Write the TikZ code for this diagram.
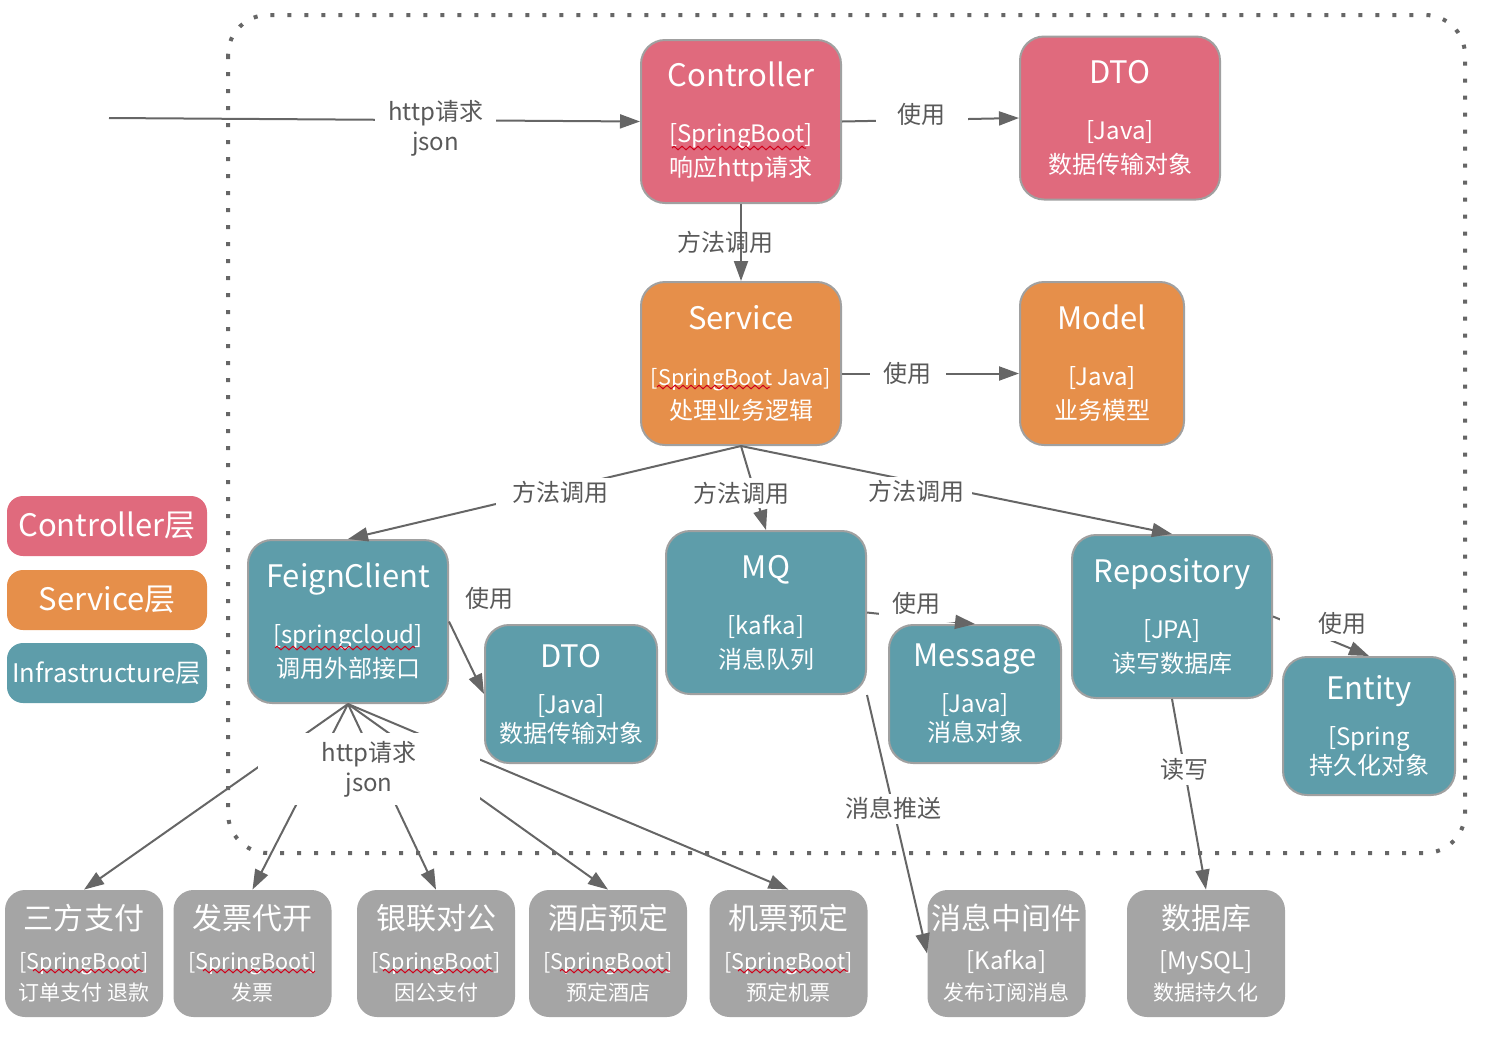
\documentclass[tikz,border=0pt]{standalone}
\usepackage{fontspec}
\setmainfont{Noto Sans CJK SC}
\usetikzlibrary{arrows.meta,decorations.pathmorphing}

\definecolor{ctrlred}{HTML}{E06A7D}
\definecolor{svcorange}{HTML}{E68F4A}
\definecolor{infrateal}{HTML}{5E9DAA}
\definecolor{extgray}{HTML}{A5A5A5}
\definecolor{edgegray}{HTML}{A0A0A0}
\definecolor{linegray}{HTML}{666666}
\definecolor{labelgray}{HTML}{595959}
\definecolor{squig}{HTML}{D0021B}

\newcommand{\ttl}[1]{{\fontsize{15.5}{15.5}\selectfont #1}}
\newcommand{\exttl}[1]{{\fontsize{15}{15}\selectfont #1}}
\newcommand{\extsb}[1]{{\fontsize{10.8}{10.8}\selectfont #1}}
\newcommand{\extsub}[1]{{\fontsize{10.5}{10.5}\selectfont #1}}

\begin{document}
\begin{tikzpicture}[x=0.5pt,y=-0.5pt,
    box/.style={draw=edgegray, line width=1pt, rounded corners=12pt, text=white, align=center, inner sep=0pt},
    bigbox/.style={box, minimum width=100pt, minimum height=81.5pt, font=\fontsize{12}{17}\selectfont},
    smallbox/.style={box, minimum width=86pt, minimum height=69pt, font=\fontsize{12}{14.5}\selectfont},
    extbox/.style={fill=extgray, rounded corners=10pt, text=white, align=center, inner sep=0pt,
      minimum width=79pt, minimum height=63.5pt, font=\fontsize{12}{15.5}\selectfont},
    legendbox/.style={rounded corners=8pt, text=white, inner sep=0pt, minimum width=100pt,
      minimum height=30pt, font=\fontsize{15.5}{15.5}\selectfont},
    arr/.style={draw=linegray, line width=1pt, -{Triangle[length=10pt,width=7pt]}},
    lbl/.style={fill=white, text=labelgray, align=center, inner sep=2pt, font=\fontsize{12}{15}\selectfont},
    squiggle/.style={draw=squig, line width=0.5pt, decorate,
      decoration={zigzag, segment length=4pt, amplitude=0.9pt}}]

    \useasboundingbox (0,0) rectangle (1492,1040);

    % service boundary
    \draw[linegray, line width=2pt, dash pattern=on 2pt off 6.5pt, rounded corners=20pt]
        (228,15) rectangle (1465,853);

    % legend
    \node[legendbox, fill=ctrlred] (lgctrl) at (107,526) {Controller层};
    \node[legendbox, fill=svcorange] (lgsvc) at (107,600) {Service层};
    \node[legendbox, fill=infrateal, font=\fontsize{12.8}{12.8}\selectfont] (lginfra) at (107,673) {Infrastructure层};

    % controller / service layer
    \node[bigbox, fill=ctrlred] (ctrl) at (741,121.5) {\ttl{Controller}\\[11pt]{[}SpringBoot]\\响应http请求};
    \node[bigbox, fill=ctrlred] (dtoa) at (1120,118) {\ttl{DTO}\\[11pt]{[}Java]\\数据传输对象};
    \node[bigbox, fill=svcorange] (svc) at (741,363.5) {\ttl{Service}\\[11pt]\extsb{[SpringBoot Java]}\\处理业务逻辑};
    \node[bigbox, fill=svcorange, minimum width=82pt] (model) at (1102,363.5) {\ttl{Model}\\[11pt]{[}Java]\\业务模型};

    % infrastructure layer
    \node[bigbox, fill=infrateal] (feign) at (348,621.5) {\ttl{FeignClient}\\[11pt]{[}springcloud]\\调用外部接口};
    \node[smallbox, fill=infrateal] (dtob) at (571,694) {\ttl{DTO}\\[8.5pt]{[}Java]\\数据传输对象};
    \node[bigbox, fill=infrateal] (mq) at (766,612.5) {\ttl{MQ}\\[11pt]{[}kafka]\\消息队列};
    \node[smallbox, fill=infrateal] (msg) at (975,694) {\ttl{Message}\\[8.5pt]{[}Java]\\消息对象};
    \node[bigbox, fill=infrateal] (repo) at (1172,616.5) {\ttl{Repository}\\[11pt]{[}JPA]\\读写数据库};
    \node[smallbox, fill=infrateal] (entity) at (1369,726) {\ttl{Entity}\\[8.5pt]{[}Spring\\持久化对象};

    % external systems
    \node[extbox] (pay) at (84,953.5) {\exttl{三方支付}\\[4.5pt]\extsb{[SpringBoot]}\\\extsub{订单支付 退款}};
    \node[extbox] (inv) at (252.5,953.5) {\exttl{发票代开}\\[4.5pt]\extsb{[SpringBoot]}\\\extsub{发票}};
    \node[extbox] (bank) at (436,953.5) {\exttl{银联对公}\\[4.5pt]\extsb{[SpringBoot]}\\\extsub{因公支付}};
    \node[extbox] (hotel) at (608,953.5) {\exttl{酒店预定}\\[4.5pt]\extsb{[SpringBoot]}\\\extsub{预定酒店}};
    \node[extbox] (air) at (788.5,953.5) {\exttl{机票预定}\\[4.5pt]\extsb{[SpringBoot]}\\\extsub{预定机票}};
    \node[extbox] (mw) at (1006.5,953.5) {\exttl{消息中间件}\\[4.5pt]{[}Kafka]\\\extsub{发布订阅消息}};
    \node[extbox] (db) at (1206,953.5) {\exttl{数据库}\\[4.5pt]{[}MySQL]\\\extsub{数据持久化}};

    % spell-check waves
    \draw[squiggle] (672,148) -- (806,148);
    \draw[squiggle] (657,387) -- (770,387);
    \draw[squiggle] (275,648) -- (415,648);
    \foreach \xa/\xb in {33/143,203/315,383/493,560/670,738/848}
        \draw[squiggle] (\xa,971) -- (\xb,971);

    % connectors
    \coordinate (src) at (109,118);
    \draw[arr] (src) -- node[lbl, pos=0.615, inner xsep=6.5pt, yshift=-4pt]{http请求\\json} (ctrl.west);
    \draw[arr] (ctrl.east) -- node[lbl, pos=0.45, inner xsep=11pt, yshift=3pt]{使用} (dtoa.west);
    \draw[arr] (ctrl.south) -- node[lbl, fill=none, xshift=-8pt]{方法调用} (svc.north);
    \draw[arr] ([yshift=-5pt]svc.east) -- node[lbl, pos=0.37, inner xsep=7pt]{使用} ([yshift=-5pt]model.west);
    \draw[arr] (svc.south) -- node[lbl, pos=0.46, inner xsep=8pt, yshift=-2pt]{方法调用} (feign.north);
    \draw[arr] (svc.south) -- node[lbl, pos=0.56, xshift=-7pt]{方法调用} (mq.north);
    \draw[arr] (svc.south) -- node[lbl, pos=0.406, inner xsep=4pt, yshift=-5pt]{方法调用} (repo.north);
    \draw[arr] (feign.east) -- node[lbl, pos=0, fill=none, xshift=20pt, yshift=11.75pt]{使用} (dtob.west);
    \draw[arr] (mq.east) -- node[lbl, pos=0.46, inner xsep=7pt, inner ysep=3.5pt, yshift=7pt]{使用} (msg.north);
    \draw[arr] (repo.east) -- node[lbl, pos=0.72, inner xsep=19pt, inner ysep=3.5pt, yshift=11pt]{使用} (entity.north);
    \draw[arr] (repo.south) -- node[lbl, pos=0.37]{读写} (db.north);
    \draw[arr] (mq.south east) -- node[lbl, pos=0.44]{消息推送} (mw.west);

    \foreach \b in {pay,inv,bank,hotel,air}
        \draw[arr] (feign.south) -- (\b.north);
    \node[lbl, minimum width=111pt, minimum height=36pt] (fan) at (369,769) {http请求\\json};
\end{tikzpicture}
\end{document}
